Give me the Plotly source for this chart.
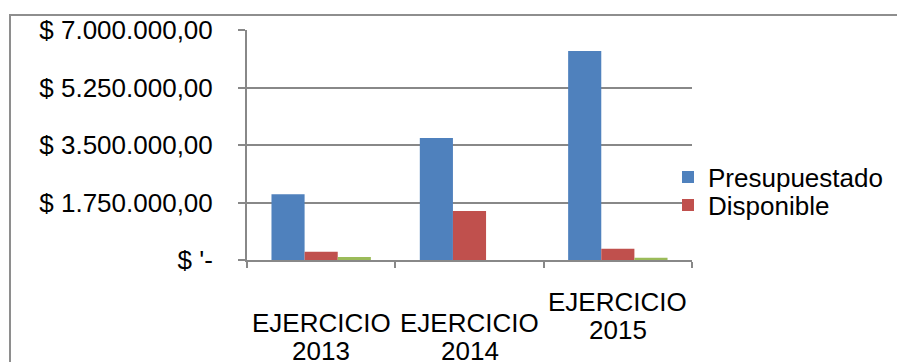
import plotly.graph_objects as go

# Data
categories = ["EJERCICIO 2013", "EJERCICIO 2014", "EJERCICIO 2015"]
presupuestado = [2000000, 3710000, 6360000]
disponible = [250000, 1490000, 340000]
ejercido = [90000, 0, 70000]

y_tickvals = [0, 1750000, 3500000, 5250000, 7000000]
y_ticktext = ["$ '-", "$ 1.750.000,00", "$ 3.500.000,00", "$ 5.250.000,00", "$ 7.000.000,00"]

# Category labels: first line / second line and a vertical offset (rows)
cat_line1 = ["EJERCICIO", "EJERCICIO", "EJERCICIO"]
cat_line2 = ["2013", "2014", "2015"]
cat_row = [1, 1, 0]

FONT = "Liberation Sans, Arial, sans-serif"
FS = 26
GRID = "#888888"

W, H = 897, 362
L, R, T, B = 247, 205, 30, 102
pw, ph = W - L - R, H - T - B

def px_x(p):
    return (p - L) / pw

def px_y(p):
    return (H - B - p) / ph

fig = go.Figure()
fig.add_trace(go.Bar(x=categories, y=presupuestado, name="Presupuestado",
                     legend="legend",
                     marker=dict(color="#4F81BD", line=dict(width=0))))
fig.add_trace(go.Bar(x=categories, y=disponible, name="Disponible",
                     legend="legend2",
                     marker=dict(color="#C0504D", line=dict(width=0))))
fig.add_trace(go.Bar(x=categories, y=ejercido, name="Ejercido", showlegend=False,
                     marker=dict(color="#9BBB59", line=dict(width=0))))

annotations = []
for cat, l1, l2, row in zip(categories, cat_line1, cat_line2, cat_row):
    base = 302 + row * 21
    annotations.append(dict(x=cat, xref="x", y=px_y(base), yref="paper",
                            text=l1, showarrow=False, yanchor="middle",
                            font=dict(family=FONT, size=FS, color="#000000")))
    annotations.append(dict(x=cat, xref="x", y=px_y(base + 28), yref="paper",
                            text=l2, showarrow=False, yanchor="middle",
                            font=dict(family=FONT, size=FS, color="#000000")))

legend_style = dict(xanchor="left", yanchor="middle",
                    font=dict(family=FONT, size=FS, color="#000000"),
                    bgcolor="rgba(0,0,0,0)", itemwidth=30)

fig.update_layout(
    width=W, height=H,
    margin=dict(l=L, r=R, t=T, b=B, autoexpand=False),
    paper_bgcolor="white", plot_bgcolor="white",
    barmode="group", bargap=0.33, bargroupgap=0,
    font=dict(family=FONT, size=FS, color="#000000"),
    showlegend=True,
    legend=dict(x=px_x(668), y=px_y(177), **legend_style),
    legend2=dict(x=px_x(668), y=px_y(205), **legend_style),
    xaxis=dict(showticklabels=False, showgrid=False,
               showline=True, linecolor=GRID, linewidth=2,
               ticks="outside", tickson="boundaries", ticklen=6,
               tickcolor=GRID, tickwidth=2),
    yaxis=dict(range=[0, 7000000], tickvals=y_tickvals, ticktext=y_ticktext,
               showgrid=True, gridcolor=GRID, gridwidth=2,
               zeroline=False, showline=True, linecolor=GRID, linewidth=2,
               ticks="outside", ticklen=7, tickcolor=GRID, tickwidth=2,
               ticklabelstandoff=20,
               tickfont=dict(family=FONT, size=FS, color="#000000")),
    annotations=annotations,
    shapes=[dict(type="rect", xref="paper", yref="paper",
                 x0=px_x(10), x1=px_x(905), y0=px_y(372), y1=px_y(15),
                 line=dict(color="#8e8e8e", width=2), layer="below")],
)

fig.write_html("out.html")
